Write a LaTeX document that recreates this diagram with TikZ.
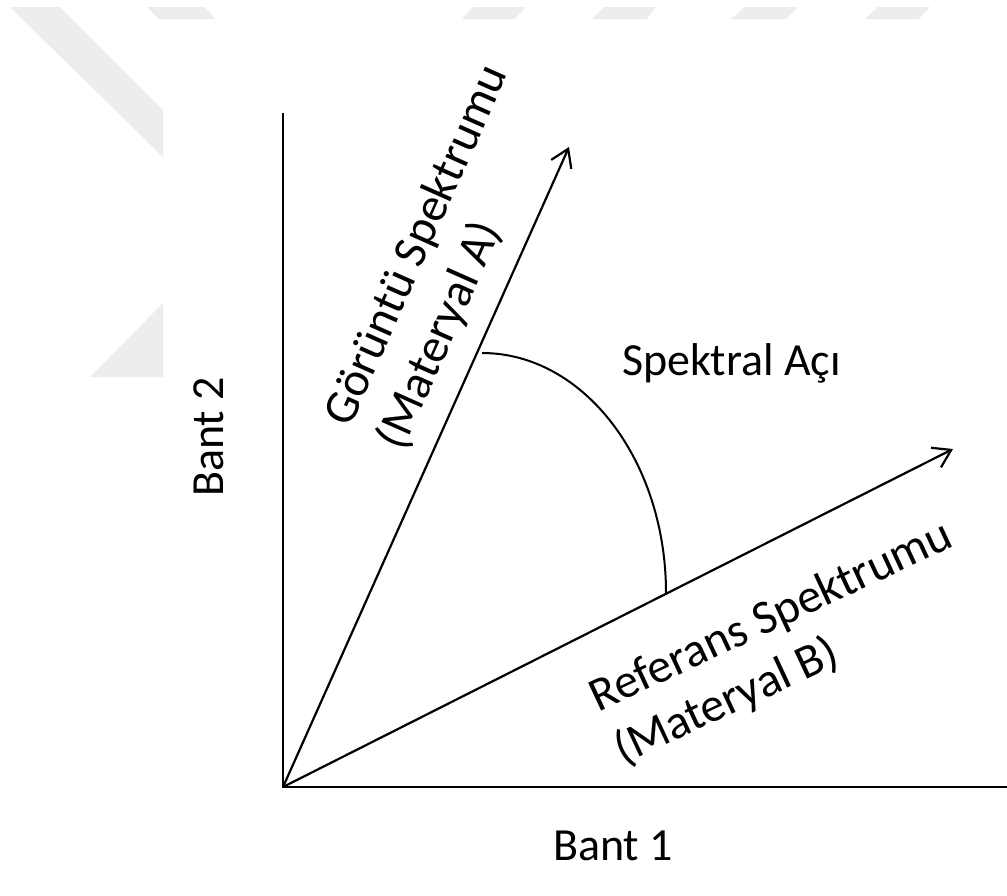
\documentclass[tikz,border=0pt]{standalone}
\usepackage{fontspec}
\setmainfont{Carlito}
\usetikzlibrary{arrows.meta}
\definecolor{wm}{RGB}{237,237,237}
\begin{document}
\begin{tikzpicture}[x=1pt,y=-1pt,
  axis/.style={line width=2.6pt},
  vec/.style={line width=2.2pt, -{Straight Barb[length=17pt,width=22pt,line width=2.2pt]}},
  anglearc/.style={line width=2pt},
  lbl/.style={font=\fontsize{46}{55}\selectfont, inner sep=0pt, outer sep=0pt},
  vlbl/.style={font=\fontsize{48}{58}\selectfont, inner sep=0pt, outer sep=0pt, align=left},
  wmark/.style={fill=wm, draw=none}]
\useasboundingbox (0,0) rectangle (1007,895);
\fill[white] (0,0) rectangle (1007,895);
% watermark remnants
\fill[wmark] (10,7) -- (60,7) -- (163,110) -- (163,157) -- cycle;
\fill[wmark] (147,7) -- (205,7) -- (215,19) -- (159,19) -- cycle;
\fill[wmark] (90,377) -- (163,303) -- (163,377) -- cycle;
\fill[wmark] (473,7) -- (526,7) -- (515,19) -- (462,19) -- cycle;
\fill[wmark] (604,7) -- (656,7) -- (647,19) -- (592,19) -- cycle;
\fill[wmark] (745,7) -- (798,7) -- (786,19) -- (731,19) -- cycle;
\fill[wmark] (878,7) -- (930,7) -- (919,19) -- (865,19) -- cycle;
% axes and vectors
\coordinate (O) at (283,787);
\coordinate (Ytop) at (283,113);
\coordinate (Xend) at (1007,787);
\coordinate (Atip) at (569,147);
\coordinate (Btip) at (953,449);
\coordinate (arcA) at (482,353);
\draw[axis] (Ytop) -- (O) -- (Xend);
\draw[vec] (O) -- (Atip);
\draw[vec] (O) -- (Btip);
\draw[anglearc] (arcA) arc[start angle=-90, end angle=0, x radius=184, y radius=240];
% labels
\node[lbl, rotate=90, anchor=base] (bant2) at (223,437) {Bant 2};
\node[lbl, anchor=base] (bant1) at (613,860) {Bant 1};
\node[lbl, anchor=base west] (aci) at (622,375) {Spektral Açı};
\node[vlbl, rotate=66, anchor=base west] (alabel) at (403,452) {Görüntü Spektrumu\\(Materyal A)};
\node[vlbl, rotate=25, anchor=base west] (blabel) at (623,765) {Referans Spektrumu\\(Materyal B)};
\end{tikzpicture}
\end{document}
